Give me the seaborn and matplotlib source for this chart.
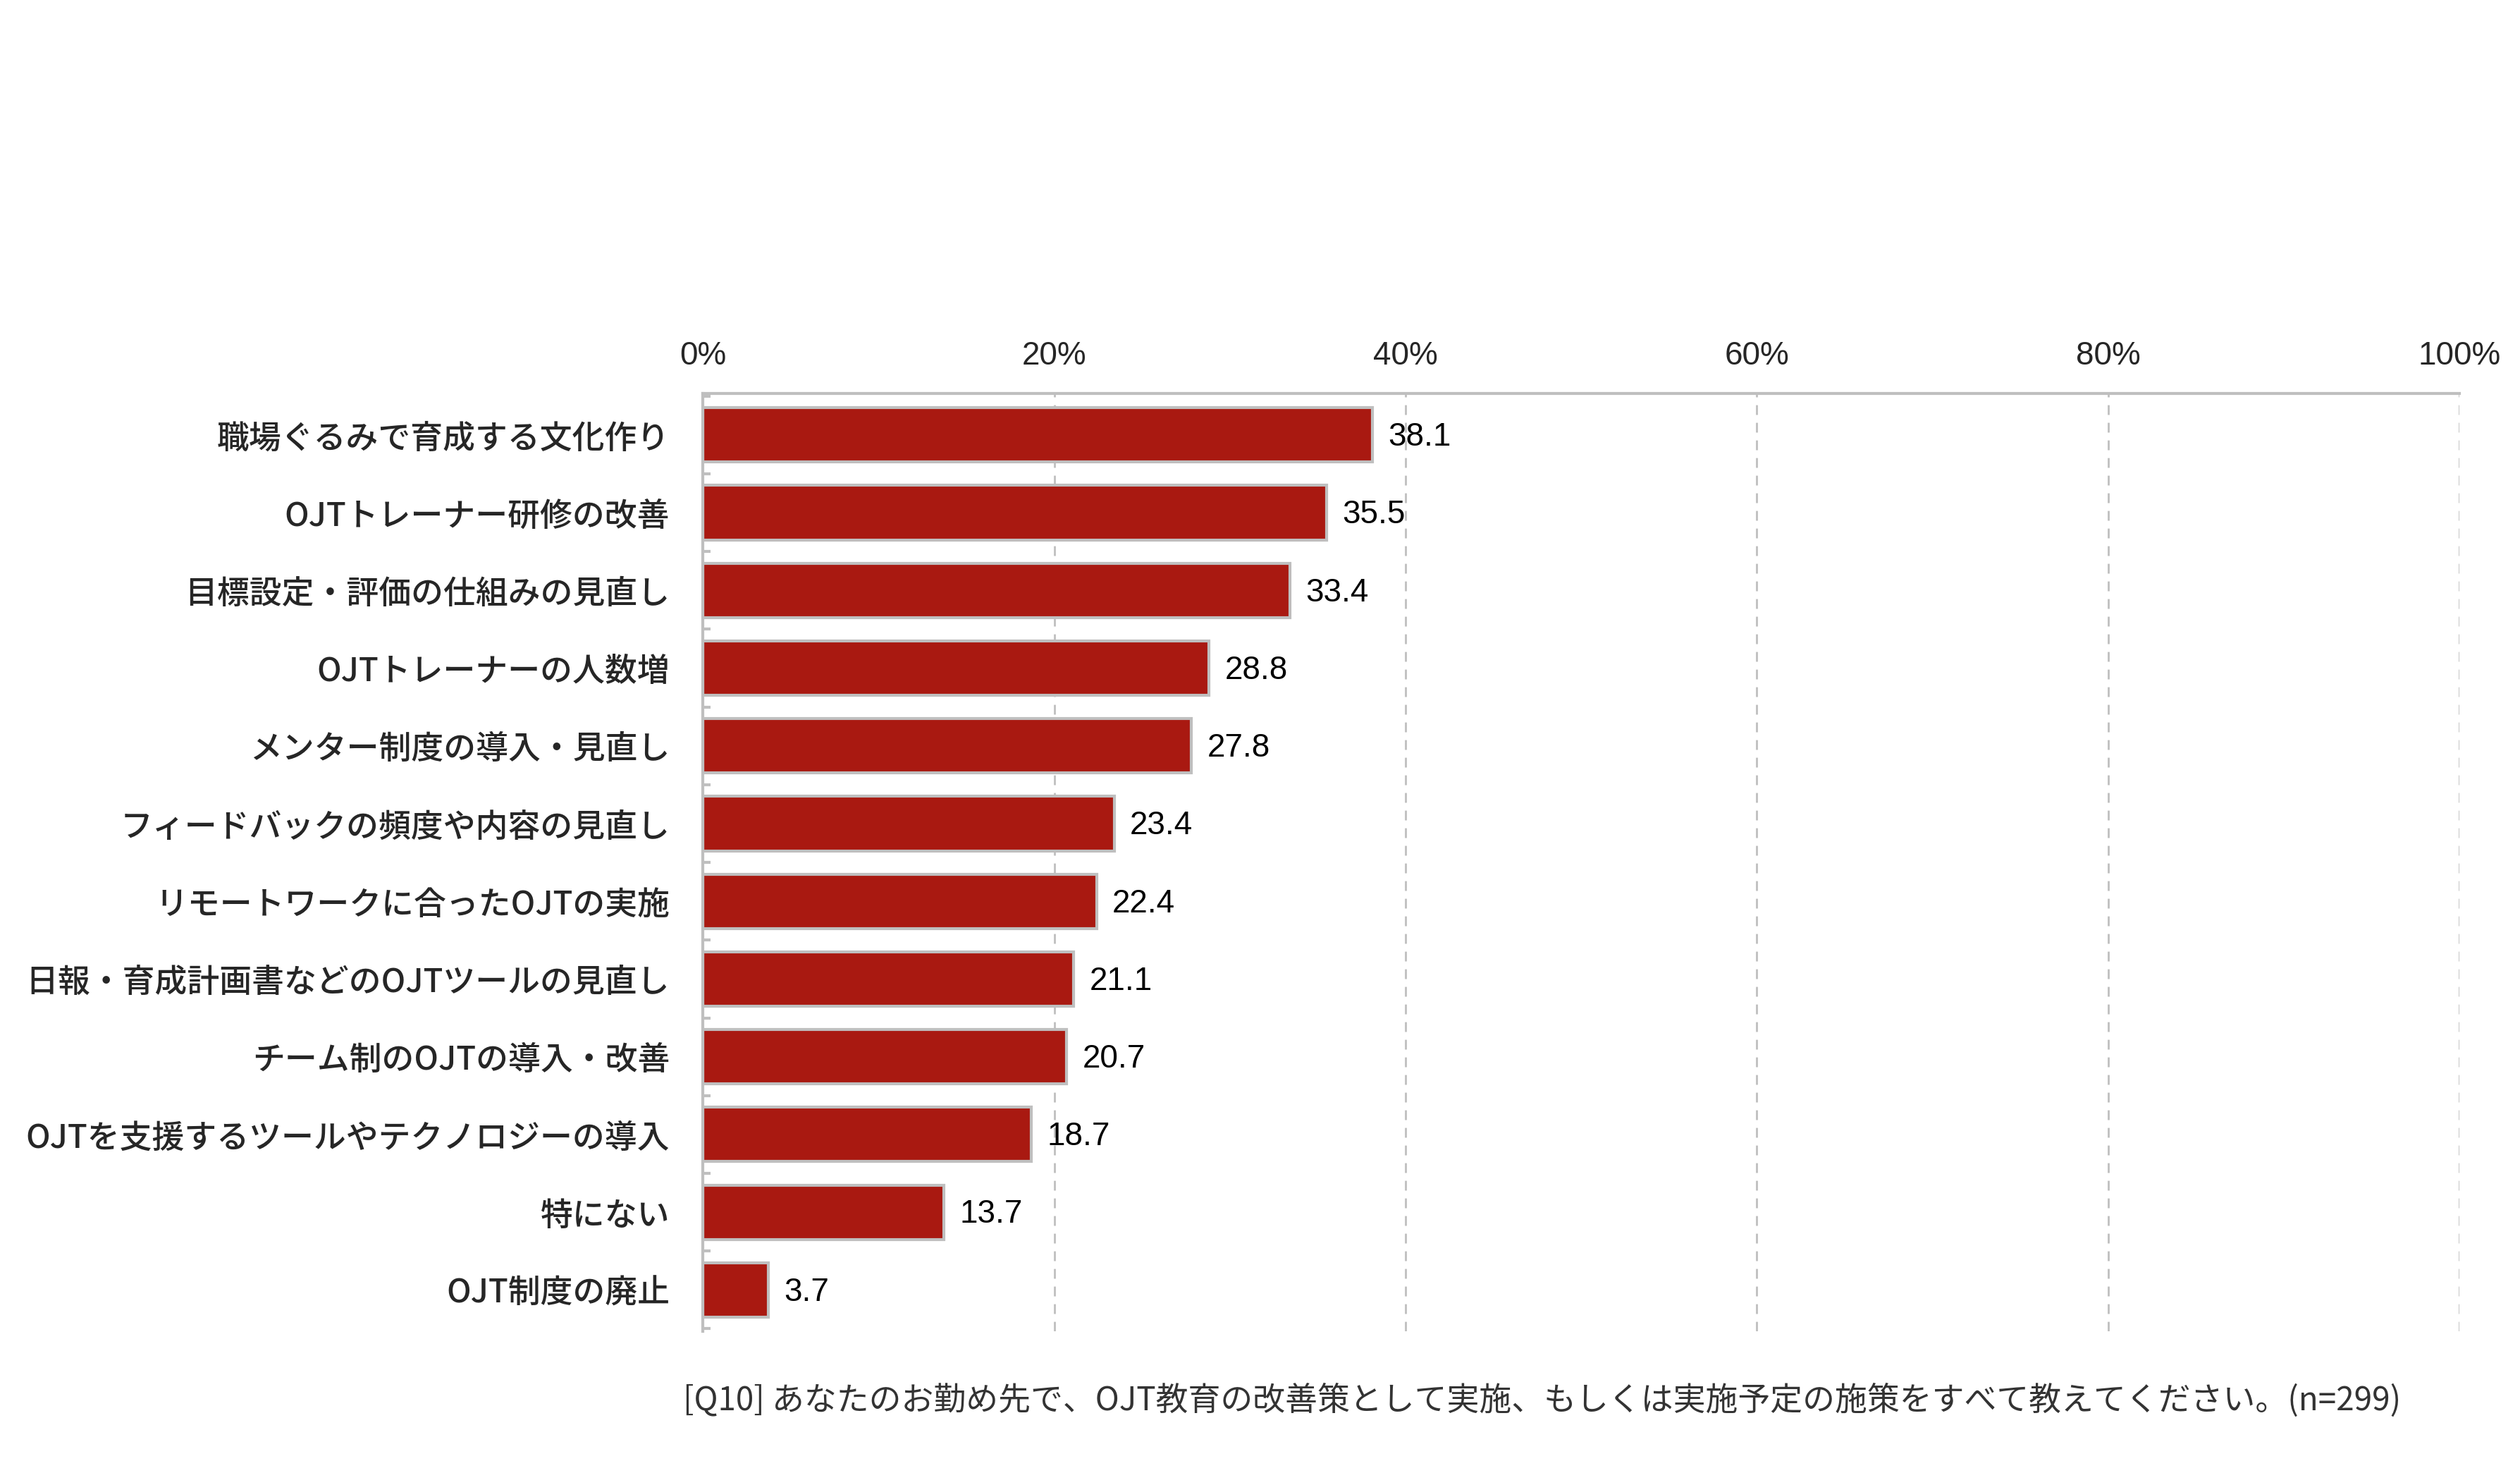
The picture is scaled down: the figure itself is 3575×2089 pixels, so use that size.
import numpy as np
import pandas as pd
import matplotlib
matplotlib.use("Agg")
import matplotlib.pyplot as plt
import seaborn as sns
from matplotlib.ticker import FixedLocator

# 項目と割合(%)
categories = [
    "職場ぐるみで育成する文化作り",
    "OJTトレーナー研修の改善",
    "目標設定・評価の仕組みの見直し",
    "OJTトレーナーの人数増",
    "メンター制度の導入・見直し",
    "フィードバックの頻度や内容の見直し",
    "リモートワークに合ったOJTの実施",
    "日報・育成計画書などのOJTツールの見直し",
    "チーム制のOJTの導入・改善",
    "OJTを支援するツールやテクノロジーの導入",
    "特にない",
    "OJT制度の廃止",
]
values = [38.1, 35.5, 33.4, 28.8, 27.8, 23.4, 22.4, 21.1, 20.7, 18.7, 13.7, 3.7]
x_ticks = [0, 20, 40, 60, 80, 100]
x_tick_labels = ["0%", "20%", "40%", "60%", "80%", "100%"]
footnote = "[Q10] あなたのお勤め先で、OJT教育の改善策として実施、もしくは実施予定の施策をすべて教えてください。(n=299)"

df = pd.DataFrame({"item": categories, "pct": values})

sns.set_style("white")
plt.rcParams['font.family'] = ['Noto Sans CJK JP', 'DejaVu Sans']

bar_color = "#A91911"
line_gray = "#BFBFBF"

fig = plt.figure(figsize=(35.75, 20.89), dpi=100)
ax = fig.add_axes([0.279, 0.096, 0.697, 0.637])

sns.barplot(data=df, x="pct", y="item", orient="h", color=bar_color,
            width=0.7, edgecolor=line_gray, linewidth=3, saturation=1, ax=ax)

ax.set_xlim(0, 100)
ax.set_ylim(11.536, -0.536)
ax.xaxis.tick_top()
ax.set_xticks(x_ticks)
ax.set_xticklabels(x_tick_labels, family=['Liberation Sans', 'DejaVu Sans'], fontsize=33)
ax.tick_params(axis='x', length=0, pad=22)
ax.set_yticks(range(len(categories)))
ax.set_yticklabels(categories, fontsize=33, fontweight='medium')
ax.tick_params(axis='y', which='major', length=0, pad=34)
ax.yaxis.set_minor_locator(FixedLocator(np.arange(-0.5, len(categories), 1.0)))
ax.tick_params(axis='y', which='minor', direction='in', length=8, width=3, color=line_gray, left=True)
ax.set_xlabel("")
ax.set_ylabel("")

# 点線のグリッド
for xv in x_ticks[1:]:
    ax.axvline(xv, color=line_gray, linestyle=(0, (5, 4)), linewidth=2, zorder=0)

for side in ["right", "bottom"]:
    ax.spines[side].set_visible(False)
for side in ["left", "top"]:
    ax.spines[side].set_color(line_gray)
    ax.spines[side].set_linewidth(3)

# 数値ラベル
for i, v in enumerate(values):
    ax.text(v + 0.9, i + 0.03, f"{v:.1f}", va="center", ha="left", fontsize=33,
            family=['Liberation Sans', 'DejaVu Sans'], color="black")

fig.text(0.271, 0.049, footnote, fontsize=33, color="#333333", va="center", ha="left")

fig.savefig("out.png", dpi=100, facecolor="white")
